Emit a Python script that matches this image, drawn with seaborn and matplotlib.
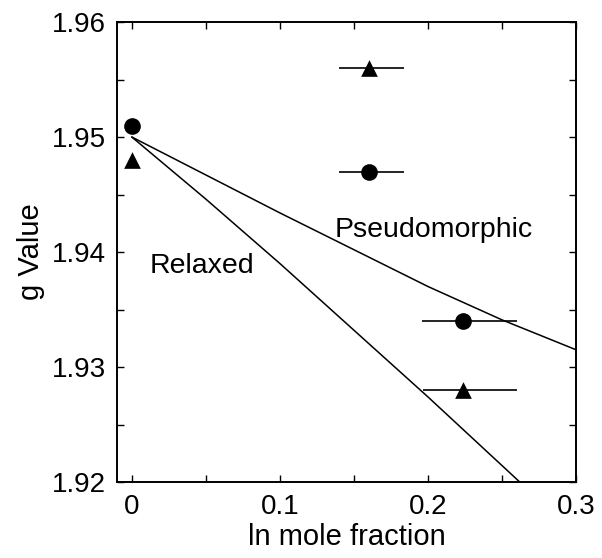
import matplotlib
matplotlib.use("Agg")
import matplotlib.pyplot as plt
import seaborn as sns
import pandas as pd
from matplotlib.ticker import MultipleLocator

# ---- data ----
circle_x = [0.0, 0.16, 0.224]
circle_y = [1.951, 1.947, 1.934]
circle_xerr_lo = [0.0, 0.020, 0.028]
circle_xerr_hi = [0.0, 0.024, 0.036]

tri_x = [0.0, 0.16, 0.224]
tri_y = [1.948, 1.956, 1.928]
tri_xerr_lo = [0.0, 0.020, 0.027]
tri_xerr_hi = [0.0, 0.024, 0.036]

pseudo_x = [0.0, 0.05, 0.10, 0.15, 0.20, 0.25, 0.30]
pseudo_y = [1.950, 1.9467, 1.9434, 1.9402, 1.9370, 1.9341, 1.9315]

relaxed_x = [0.0, 0.05, 0.10, 0.15, 0.20, 0.262]
relaxed_y = [1.950, 1.9446, 1.9390, 1.9332, 1.9274, 1.920]

x_ticks = [0, 0.1, 0.2, 0.3]
x_tick_labels = ["0", "0.1", "0.2", "0.3"]
y_ticks = [1.92, 1.93, 1.94, 1.95, 1.96]
y_tick_labels = ["1.92", "1.93", "1.94", "1.95", "1.96"]

sns.set_theme(style="ticks")
plt.rcParams["font.family"] = ["Liberation Sans", "DejaVu Sans"]
plt.rcParams["text.color"] = "black"
plt.rcParams["axes.labelcolor"] = "black"
plt.rcParams["xtick.color"] = "black"
plt.rcParams["ytick.color"] = "black"
plt.rcParams["axes.edgecolor"] = "black"

fig = plt.figure(figsize=(6.02, 5.58), dpi=100)
ax = fig.add_axes([117 / 602, 1 - 482 / 558, (576 - 117) / 602, (482 - 22) / 558])

lw = 1.1
sns.lineplot(data=pd.DataFrame({"x": pseudo_x, "y": pseudo_y}), x="x", y="y",
             sort=False, color="black", lw=lw, ax=ax)
sns.lineplot(data=pd.DataFrame({"x": relaxed_x, "y": relaxed_y}), x="x", y="y",
             sort=False, color="black", lw=lw, ax=ax)

ax.errorbar(circle_x, circle_y, xerr=[circle_xerr_lo, circle_xerr_hi], fmt="none",
            ecolor="black", elinewidth=1.2, capsize=0)
ax.errorbar(tri_x, tri_y, xerr=[tri_xerr_lo, tri_xerr_hi], fmt="none",
            ecolor="black", elinewidth=1.2, capsize=0)

sns.scatterplot(x=circle_x, y=circle_y, marker="o", s=12 ** 2, color="black",
                edgecolor="black", linewidth=0, ax=ax, zorder=5)
sns.scatterplot(x=tri_x, y=tri_y, marker="^", s=12 ** 2, color="black",
                edgecolor="black", linewidth=0, ax=ax, zorder=5)

ax.text(0.0122, 1.93817, "Relaxed", fontsize=20.5, ha="left", va="baseline",
        color="black")
ax.text(0.137, 1.9413, "Pseudomorphic", fontsize=20.5, ha="left", va="baseline",
        color="black")

ax.set_xlim(-0.01, 0.3)
ax.set_ylim(1.92, 1.96)
ax.set_xticks(x_ticks)
ax.set_xticklabels(x_tick_labels)
ax.set_yticks(y_ticks)
ax.set_yticklabels(y_tick_labels)
ax.xaxis.set_minor_locator(MultipleLocator(0.05))
ax.yaxis.set_minor_locator(MultipleLocator(0.005))

ax.tick_params(which="both", direction="in", top=True, right=True,
               length=5, width=1.0, color="black", labelcolor="black")
ax.tick_params(axis="x", which="major", labelsize=20, pad=9)
ax.tick_params(axis="y", which="major", labelsize=20, pad=8)

for sp in ax.spines.values():
    sp.set_linewidth(1.4)
    sp.set_color("black")

ax.set_xlabel("ln mole fraction", fontsize=21, labelpad=2, color="black")
ax.set_ylabel("g Value", fontsize=21, labelpad=5, color="black")

fig.savefig("out.png", dpi=100)
